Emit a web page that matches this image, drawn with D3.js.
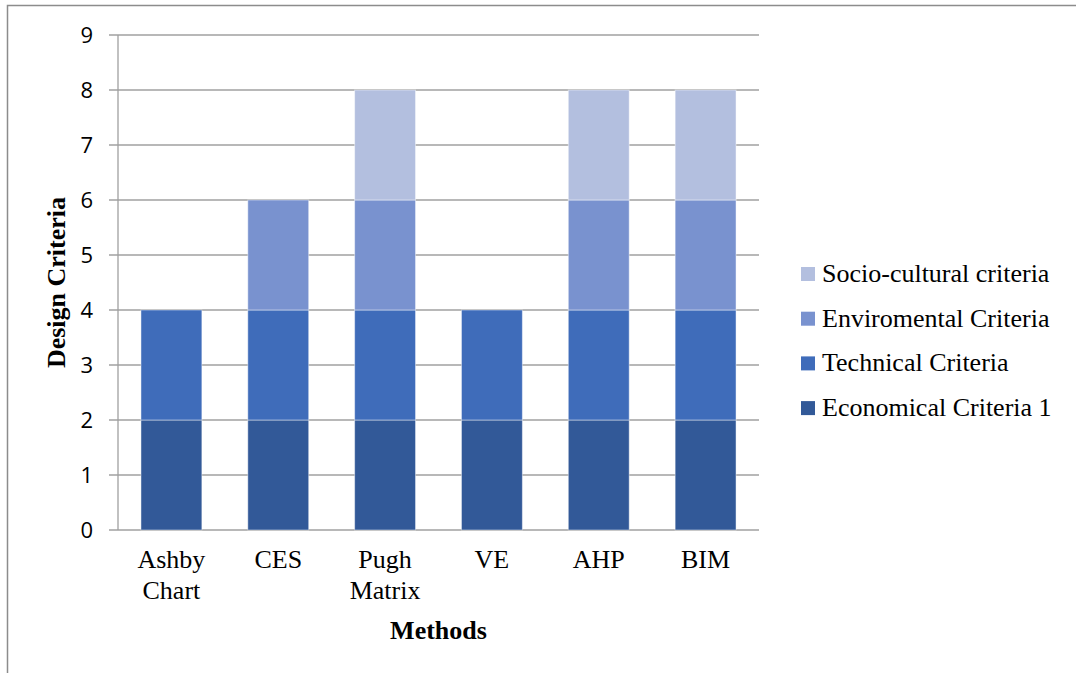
<!DOCTYPE html>
<html>
<head>
<meta charset="utf-8">
<script src="https://cdn.jsdelivr.net/npm/d3@7"></script>
<style>
  body { margin: 0; background: #fff; }
  svg { display: block; }
</style>
</head>
<body>
<svg id="chart" width="1076" height="673"></svg>
<script>
// chart values
const methods = [["Ashby", "Chart"], ["CES"], ["Pugh", "Matrix"], ["VE"], ["AHP"], ["BIM"]]
const seriesNames = ["Economical Criteria 1", "Technical Criteria", "Enviromental Criteria", "Socio-cultural criteria"]
const economical = [2, 2, 2, 2, 2, 2]
const technical = [2, 2, 2, 2, 2, 2]
const environmental = [0, 2, 2, 0, 2, 2]
const sociocultural = [0, 0, 2, 0, 2, 2]
const yTicks = [0, 1, 2, 3, 4, 5, 6, 7, 8, 9]

const colors = ["#325998", "#3f6cba", "#7992cf", "#b3bfdf"]
const serif = "'Liberation Serif', 'Times New Roman', serif"
const sans = "'Open Sans', 'Liberation Sans', sans-serif"

const svg = d3.select('#chart')

// outer frame (top and left edges show)
svg.append('path')
    .attr('d', 'M7.5,673 V5.5 H1076')
    .attr('fill', 'none')
    .attr('stroke', '#8c8c8c')
    .attr('stroke-width', 1.5)

const plot = { left: 118, right: 759, top: 35, bottom: 530 }

const keys = methods.map(m => m.join(' '))
const rows = keys.map((k, i) => ({
    key: k,
    s0: economical[i],
    s1: technical[i],
    s2: environmental[i],
    s3: sociocultural[i],
}))

const x = d3.scaleBand()
    .domain(keys)
    .range([plot.left, plot.right])
    .paddingInner(0.43)
    .paddingOuter(0.215)

const y = d3.scaleLinear()
    .domain([0, 9])
    .range([plot.bottom, plot.top])

// gridlines + ticks
svg.append('g')
    .selectAll('line')
    .data(yTicks)
    .join('line')
    .attr('x1', plot.left - 9)
    .attr('x2', plot.right)
    .attr('y1', d => y(d))
    .attr('y2', d => y(d))
    .attr('stroke', '#a0a0a0')
    .attr('stroke-width', 1.3)

svg.append('line')
    .attr('x1', plot.left).attr('x2', plot.left)
    .attr('y1', plot.top).attr('y2', plot.bottom)
    .attr('stroke', '#a0a0a0')
    .attr('stroke-width', 1.3)

svg.append('g')
    .selectAll('text')
    .data(yTicks)
    .join('text')
    .attr('x', 93)
    .attr('y', d => y(d))
    .attr('dy', '0.36em')
    .attr('text-anchor', 'end')
    .attr('font-family', sans)
    .attr('font-size', 22)
    .attr('fill', '#000')
    .text(d => d)

// stacked bars
const stack = d3.stack().keys(['s0', 's1', 's2', 's3'])(rows)

svg.append('g')
    .selectAll('g')
    .data(stack)
    .join('g')
    .attr('fill', (d, i) => colors[i])
    .selectAll('rect')
    .data(d => d.filter(p => p[1] > p[0]))
    .join('rect')
    .attr('x', d => x(d.data.key))
    .attr('width', x.bandwidth())
    .attr('y', d => y(d[1]))
    .attr('height', d => y(d[0]) - y(d[1]))
    .attr('stroke', 'rgba(255,255,255,0.45)')
    .attr('stroke-width', 1)

// category labels
svg.append('g')
    .selectAll('text')
    .data(methods)
    .join('text')
    .attr('x', (d, i) => x(keys[i]) + x.bandwidth() / 2)
    .attr('y', 568)
    .attr('text-anchor', 'middle')
    .attr('font-family', serif)
    .attr('font-size', 26)
    .attr('fill', '#000')
    .selectAll('tspan')
    .data(d => d)
    .join('tspan')
    .attr('x', function() { return this.parentNode.getAttribute('x') })
    .attr('dy', (d, i) => i ? 31 : 0)
    .text(d => d)

// axis titles
svg.append('text')
    .attr('x', (plot.left + plot.right) / 2)
    .attr('y', 639)
    .attr('text-anchor', 'middle')
    .attr('font-family', serif)
    .attr('font-weight', 'bold')
    .attr('font-size', 26)
    .text('Methods')

svg.append('text')
    .attr('transform', `translate(65,${(plot.top + plot.bottom) / 2}) rotate(-90)`)
    .attr('text-anchor', 'middle')
    .attr('font-family', serif)
    .attr('font-weight', 'bold')
    .attr('font-size', 26)
    .text('Design Criteria')

// legend, top entry is the last series
const legendItems = seriesNames.map((n, i) => ({ name: n, color: colors[i] })).reverse()

const legend = svg.append('g')
    .selectAll('g')
    .data(legendItems)
    .join('g')
    .attr('transform', (d, i) => `translate(801,${282 + i * 44.7})`)

legend.append('rect')
    .attr('x', 0)
    .attr('y', -15)
    .attr('width', 14)
    .attr('height', 14)
    .attr('fill', d => d.color)

legend.append('text')
    .attr('x', 21)
    .attr('y', 0)
    .attr('font-family', serif)
    .attr('font-size', 26)
    .attr('fill', '#000')
    .text(d => d.name)
</script>
</body>
</html>
